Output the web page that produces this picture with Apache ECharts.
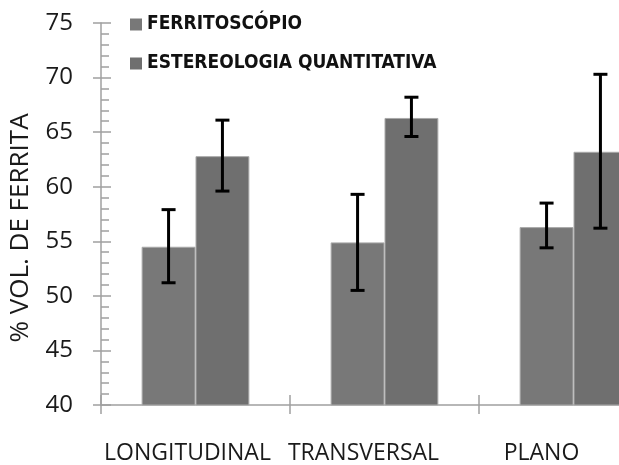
<!DOCTYPE html>
<html>
<head>
<meta charset="utf-8">
<script src="https://cdn.jsdelivr.net/npm/echarts@6/dist/echarts.min.js"></script>
<style>
html,body{margin:0;padding:0;background:#fff;}
#c{width:619px;height:465px;}
</style>
</head>
<body>
<div id="c"></div>
<script>
var categories = ['LONGITUDINAL', 'TRANSVERSAL', 'PLANO'];
var seriesNames = ['FERRITOSCÓPIO', 'ESTEREOLOGIA QUANTITATIVA'];
var ferritoscopio = [54.5, 54.9, 56.3];
var ferritoscopioLow = [51.2, 50.5, 54.4];
var ferritoscopioHigh = [57.9, 59.3, 58.5];
var estereologia = [62.8, 66.3, 63.2];
var estereologiaLow = [59.6, 64.6, 56.2];
var estereologiaHigh = [66.1, 68.2, 70.3];
var yTicks = [40, 45, 50, 55, 60, 65, 70, 75];
var yTitle = '% VOL. DE FERRITA';
var labelShift = [8, 21, 32];

var GAP = 0.43;
function errData(lo, hi) {
  return lo.map(function (v, i) { return [i, v, hi[i]]; });
}
function errRender(side) {
  return function (params, api) {
    var idx = api.value(0);
    var catW = api.size([1, 0])[0];
    var bw = catW * (1 - GAP) / 2;
    var pLo = api.coord([idx, api.value(1)]);
    var pHi = api.coord([idx, api.value(2)]);
    var x = pLo[0] + side * bw / 2;
    var cap = 7;
    var st = { stroke: '#000', lineWidth: 3 };
    return {
      type: 'group',
      children: [
        { type: 'line', shape: { x1: x, y1: pLo[1], x2: x, y2: pHi[1] }, style: st },
        { type: 'line', shape: { x1: x - cap, y1: pLo[1], x2: x + cap, y2: pLo[1] }, style: st },
        { type: 'line', shape: { x1: x - cap, y1: pHi[1], x2: x + cap, y2: pHi[1] }, style: st }
      ]
    };
  };
}

var chart = echarts.init(document.getElementById('c'), null, { renderer: 'canvas' });
var axisGrey = '#a0a0a0';
chart.setOption({
  animation: false,
  backgroundColor: '#ffffff',
  grid: { left: 101, top: 23, bottom: 60, right: -49, containLabel: false, outerBoundsMode: 'none' },
  legend: {
    orient: 'vertical',
    left: 125,
    top: 9,
    icon: 'rect',
    itemWidth: 12,
    itemHeight: 12,
    itemGap: 18,
    data: seriesNames,
    itemStyle: { borderWidth: 0 },
    textStyle: {
      fontFamily: '"DejaVu Sans Condensed", "DejaVu Sans", sans-serif',
      fontWeight: 'bold',
      fontSize: 19,
      color: '#111',
      lineHeight: 21
    }
  },
  xAxis: [{
    type: 'category',
    data: categories.map(function (c, i) {
      return { value: c, textStyle: { padding: [0, labelShift[i] * 2, 0, 0] } };
    }),
    axisLine: { lineStyle: { color: axisGrey, width: 1.5 } },
    axisTick: { show: true, length: 9, lineStyle: { color: axisGrey, width: 1.5 } },
    axisLabel: {
      interval: 0,
      hideOverlap: false,
      margin: 37,
      fontFamily: '"Open Sans", sans-serif',
      fontSize: 23,
      color: '#1a1a1a'
    }
  }, {
    type: 'category',
    position: 'bottom',
    data: categories,
    axisLine: { show: false },
    axisTick: { show: true, inside: true, length: 10, lineStyle: { color: axisGrey, width: 1.5 } },
    axisLabel: { show: false }
  }],
  yAxis: [{
    type: 'value',
    min: yTicks[0],
    max: yTicks[yTicks.length - 1],
    interval: 5,
    axisLine: { show: true, lineStyle: { color: axisGrey, width: 1.5 } },
    axisTick: { show: true, length: 8, lineStyle: { color: axisGrey, width: 1.5 } },
    splitLine: { show: false },
    axisLabel: {
      margin: 28,
      fontFamily: '"Open Sans", sans-serif',
      fontSize: 24,
      color: '#1a1a1a'
    }
  }, {
    type: 'value',
    position: 'left',
    min: yTicks[0],
    max: yTicks[yTicks.length - 1],
    interval: 5,
    axisLine: { show: false },
    axisTick: { show: true, inside: true, length: 10, lineStyle: { color: axisGrey, width: 1.5 } },
    minorTick: { show: true, splitNumber: 5, length: 8, lineStyle: { color: axisGrey, width: 1.5 } },
    splitLine: { show: false },
    axisLabel: { show: false }
  }],
  graphic: [{
    type: 'text',
    x: 21,
    y: 228,
    rotation: Math.PI / 2,
    style: {
      text: yTitle,
      fontFamily: '"Open Sans", sans-serif',
      fontSize: 26,
      fill: '#1a1a1a',
      align: 'center',
      verticalAlign: 'middle'
    }
  }],
  series: [{
    name: seriesNames[0],
    type: 'bar',
    data: ferritoscopio,
    barGap: '0%',
    barCategoryGap: '43%',
    itemStyle: { color: '#787878', borderColor: '#a9a9a9', borderWidth: 1 }
  }, {
    name: seriesNames[1],
    type: 'bar',
    data: estereologia,
    barGap: '0%',
    barCategoryGap: '43%',
    itemStyle: { color: '#6f6f6f', borderColor: '#a9a9a9', borderWidth: 1 }
  }, {
    type: 'custom',
    renderItem: errRender(-1),
    data: errData(ferritoscopioLow, ferritoscopioHigh),
    z: 10,
    silent: true
  }, {
    type: 'custom',
    renderItem: errRender(1),
    data: errData(estereologiaLow, estereologiaHigh),
    z: 10,
    silent: true
  }]
});
</script>
</body>
</html>
